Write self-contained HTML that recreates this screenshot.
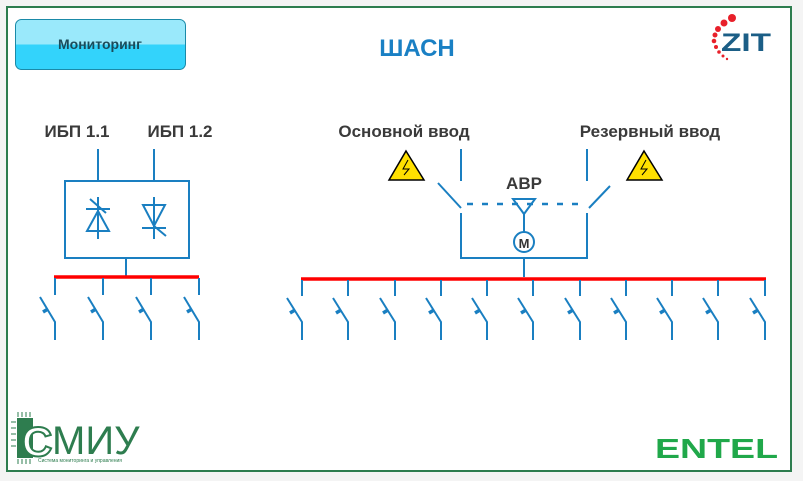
<!DOCTYPE html>
<html><head><meta charset="utf-8"><style>
body{margin:0;width:803px;height:481px;background:#fff;overflow:hidden;font-family:"Liberation Sans",sans-serif}
</style></head><body>
<svg width="803" height="481" xmlns="http://www.w3.org/2000/svg" font-family="Liberation Sans, sans-serif">
<rect x="0" y="0" width="803" height="481" fill="#f4f4f4"/>
<rect x="7" y="7" width="784" height="464" fill="#fff" stroke="#2e7d4f" stroke-width="2"/>
<defs><linearGradient id="g" x1="0" y1="0" x2="0" y2="1"><stop offset="0.5" stop-color="#9ae9fb"/><stop offset="0.5" stop-color="#33d3fb"/></linearGradient></defs>
<rect x="15.5" y="19.5" width="170" height="50" rx="6" fill="url(#g)" stroke="#1a8aa8"/>
<text x="100" y="49" text-anchor="middle" font-size="14" font-weight="bold" fill="#1b4b5a">Мониторинг</text>
<text x="417" y="56" text-anchor="middle" font-size="24" font-weight="bold" fill="#1a80c4">ШАСН</text>
<g fill="#e8202a"><circle cx="732" cy="18" r="4"/><circle cx="724" cy="23" r="3.5"/><circle cx="718" cy="29" r="3"/><circle cx="715" cy="35" r="2.5"/><circle cx="714" cy="41" r="2.3"/><circle cx="716" cy="47" r="2"/><circle cx="719" cy="52" r="1.8"/><circle cx="723" cy="56" r="1.5"/><circle cx="727" cy="59" r="1.2"/></g>
<text x="721" y="51" font-size="25" font-weight="bold" fill="#1b5e86" textLength="50" lengthAdjust="spacingAndGlyphs">ZIT</text>
<g font-size="17" font-weight="bold" fill="#3a3a3a" text-anchor="middle">
<text x="77" y="137">ИБП 1.1</text><text x="180" y="137">ИБП 1.2</text>
<text x="404" y="137">Основной ввод</text><text x="650" y="137">Резервный ввод</text>
<text x="524" y="189">АВР</text></g>
<g stroke="#1a7fc1" stroke-width="2" fill="none">
<line x1="98" y1="149" x2="98" y2="181"/><line x1="154" y1="149" x2="154" y2="181"/>
<rect x="65" y="181" width="124" height="77"/>
<line x1="126" y1="258" x2="126" y2="277"/>
<path d="M98 197V239M86 209H110M87 231H109L98 211Z M90 199L106 213"/>
<path d="M154 197V239M142 228H166M143 205H165L154 226Z M154 226L166 236"/>
<line x1="461" y1="149" x2="461" y2="181"/><line x1="587" y1="149" x2="587" y2="181"/>
<line x1="438" y1="183" x2="461" y2="208"/><line x1="610" y1="186" x2="589" y2="208"/>
<line x1="467" y1="204" x2="584" y2="204" stroke-dasharray="6,9" stroke-width="2.5"/>
<path d="M513 199H535L524 214Z"/><line x1="524" y1="214" x2="524" y2="233"/>
<circle cx="524" cy="242" r="10"/>
<path d="M461 213V258H587V213M524 258V277"/>
</g>
<text x="524" y="248" text-anchor="middle" font-size="13" font-weight="bold" fill="#333">M</text>
<line x1="54" y1="277" x2="199" y2="277" stroke="#f00" stroke-width="3.5"/>
<line x1="301" y1="279" x2="766" y2="279" stroke="#f00" stroke-width="3.5"/>
<g stroke="#1a7fc1" stroke-width="2" fill="none">
<path d="M55 278V295M40 297L55 322V340M103 278V295M88 297L103 322V340M151 278V295M136 297L151 322V340M199 278V295M184 297L199 322V340"/>
<path d="M302 280V296M287 298L302 322V340M348 280V296M333 298L348 322V340M395 280V296M380 298L395 322V340M441 280V296M426 298L441 322V340M487 280V296M472 298L487 322V340M533 280V296M518 298L533 322V340M580 280V296M565 298L580 322V340M626 280V296M611 298L626 322V340M672 280V296M657 298L672 322V340M718 280V296M703 298L718 322V340M765 280V296M750 298L765 322V340"/>
</g>
<g stroke="#1a7fc1" stroke-width="3.5">
<path d="M43 312l5-3M91 312l5-3M139 312l5-3M187 312l5-3M290 313l5-3M336 313l5-3M383 313l5-3M429 313l5-3M475 313l5-3M521 313l5-3M568 313l5-3M614 313l5-3M660 313l5-3M706 313l5-3M753 313l5-3"/>
</g>
<g stroke="#000" stroke-width="1.5" fill="#ffe000"><path d="M406 151L424 180H389Z"/><path d="M644 151L662 180H627Z"/></g>
<g stroke="#000" stroke-width="1" fill="none"><path d="M408 160L403 169H409L404 175"/><path d="M646 160L641 169H647L642 175"/></g>
<rect x="17" y="418" width="16" height="40" fill="#2e7d4f"/>
<g stroke="#2e7d4f" stroke-width="1"><path d="M18 412v5M22 412v5M26 412v5M30 412v5M18 459v5M22 459v5M26 459v5M30 459v5M11 422h5M11 428h5M11 434h5M11 440h5M11 446h5"/></g>
<text x="22" y="456" font-size="42" fill="#fff" stroke="#2e7d4f" stroke-width="2" font-weight="bold">С</text>
<text x="52" y="454" font-size="40" fill="#2e7d4f">МИУ</text>
<text x="38" y="462" font-size="5" fill="#2e7d4f">Система мониторинга и управления</text>
<text x="655" y="458" font-size="28" font-weight="bold" fill="#20a84a" textLength="123" lengthAdjust="spacingAndGlyphs">ENTEL</text>
</svg>
</body></html>
